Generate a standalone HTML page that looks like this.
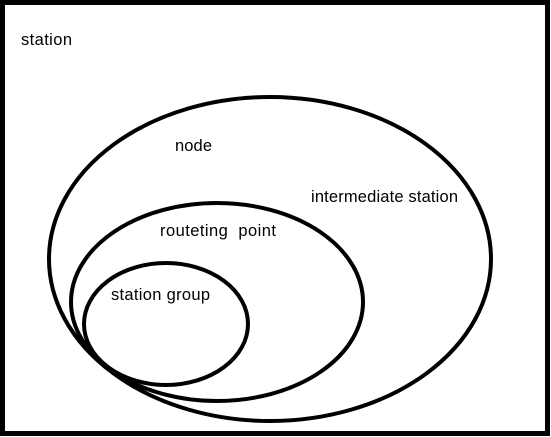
<!DOCTYPE html>
<html><head><style>
html,body{margin:0;padding:0;background:#fff;}
svg{display:block;}
text{font-family:"Liberation Sans","Noto Sans CJK SC",sans-serif;font-size:16.5px;fill:#000;}
</style></head><body>
<svg width="551" height="437" viewBox="0 0 551 437">
<rect x="2.5" y="2.5" width="545" height="431" fill="#fff" stroke="#000" stroke-width="5"/>
<ellipse cx="270" cy="259" rx="221" ry="162" fill="none" stroke="#000" stroke-width="4"/>
<ellipse cx="217" cy="302" rx="146" ry="99" fill="none" stroke="#000" stroke-width="4"/>
<ellipse cx="166" cy="324" rx="82" ry="61" fill="none" stroke="#000" stroke-width="4"/>
<text x="21" y="45" textLength="51">station</text>
<text x="175" y="151" textLength="37">node</text>
<text x="311" y="202" textLength="147">intermediate station</text>
<text x="160" y="236" xml:space="preserve" textLength="116">routeting  point</text>
<text x="111" y="300" textLength="99">station group</text>
</svg>
</body></html>
